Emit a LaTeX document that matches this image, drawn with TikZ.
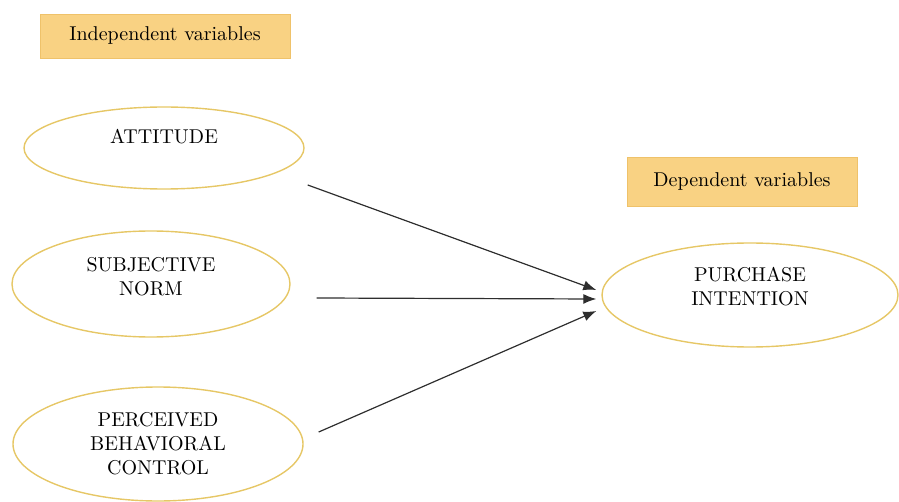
\documentclass[tikz,border=0pt]{standalone}
\usepackage[usenames,dvipsnames]{xcolor}
\usepackage{tikz}
\usetikzlibrary{arrows.meta,shapes.geometric}

\definecolor{boxfill}{HTML}{F9D283}
\definecolor{boxline}{HTML}{EFC26A}
\definecolor{ringline}{HTML}{E6C766}
\definecolor{arrline}{HTML}{2E2E2E}

\begin{document}
\begin{tikzpicture}[x=0.5pt,y=-0.5pt,
    header/.style={draw=boxline,fill=boxfill,rectangle,inner sep=0pt},
    var/.style={draw=ringline,line width=0.7pt,ellipse,inner sep=0pt,align=center},
    link/.style={draw=arrline,line width=0.6pt,-{Latex[length=6.5pt,width=5pt]}}]
  \useasboundingbox (0,0) rectangle (899,502);
   \draw (165,36) node[header,minimum width=125pt,minimum height=22pt] (indep) {Independent variables};
   \draw (742,182) node[header,minimum width=115pt,minimum height=24.5pt] (dep) {Dependent variables};

  \draw (164,148) node[var,minimum width=140pt,minimum height=41pt] (att) {ATTITUDE\\[0pt]};
  \draw (151,284) node[var,minimum width=139pt,minimum height=53pt] (subj) {SUBJECTIVE\\NORM\\[-4pt]};
  \draw (158,444) node[var,minimum width=145pt,minimum height=57pt] (pbc) {PERCEIVED\\BEHAVIORAL\\CONTROL};
      \draw (750,295) node[var,minimum width=148pt,minimum height=52pt] (pi) {PURCHASE\\INTENTION\\[-3pt]};

    \draw[link] ([shift={(3,37)}]att.east) -- ([shift={(-5,-5)}]pi.west);
      \draw[link] ([shift={(26,14)}]subj.east) -- ([shift={(-5,4)}]pi.west);
      \draw[link] ([shift={(15,-12)}]pbc.east) -- ([shift={(-5,16)}]pi.west);

\end{tikzpicture}
\end{document}
